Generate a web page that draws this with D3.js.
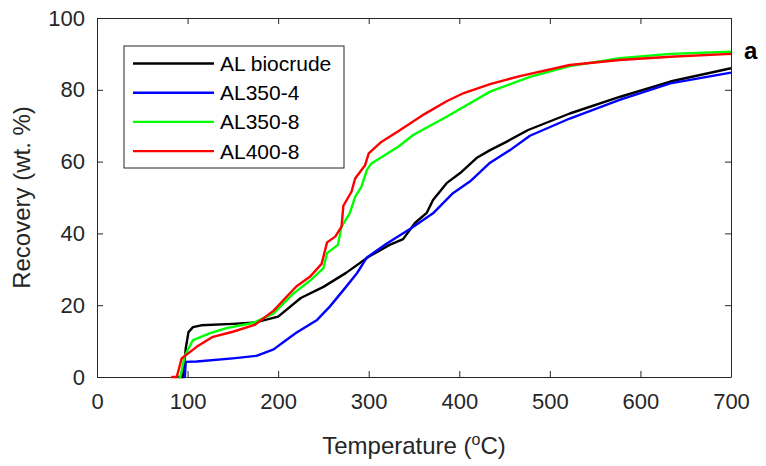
<!DOCTYPE html>
<html>
<head>
<meta charset="utf-8">
<script src="https://cdn.jsdelivr.net/npm/d3@7"></script>
<style>
  body { margin: 0; background: #fff; }
  text { font-family: "Liberation Sans", Arial, sans-serif; fill: #262626; }
</style>
</head>
<body>
<svg></svg>
<script>
// recovery curves, [temperature °C, recovery wt.%]
const seriesNames = ['AL biocrude', 'AL350-4', 'AL350-8', 'AL400-8']
const seriesColors = ['#000000', '#0000ff', '#00ff00', '#ff0000']

const alBiocrude = [[89,0],[95,0],[98,8],[101,12.5],[106,13.9],[115,14.4],[150,14.8],[175,15.2],[200,16.8],[225,22],[250,25.1],[275,29],[300,33.5],[323,36.8],[338,38.4],[351,42.9],[364,45.7],[371,49.3],[386,54],[401,56.8],[419,61],[434,63.2],[452,65.5],[476,68.8],[522,73.4],[577,78],[633,82.3],[700,86]]
const al350_4 = [[95,0],[97,0],[98,4.2],[110,4.3],[150,5.2],[176,5.9],[195,7.7],[209,10.3],[220,12.3],[243,15.9],[257,19.6],[272,24.2],[287,28.9],[298,33.3],[320,37.2],[346,41.3],[371,45.6],[393,51.2],[412,54.5],[434,59.7],[456,63.2],[478,67.2],[522,72],[577,77.2],[633,81.8],[700,84.8]]
const al350_8 = [[90,0],[92,0],[97,6],[106,10.3],[125,12.2],[143,13.6],[173,15.1],[195,17.7],[217,23.3],[235,26.8],[250,30.3],[254,34.5],[266,36.8],[270,41.9],[279,45.6],[285,50.2],[292,53],[298,57.7],[303,59.5],[333,64.2],[349,67.4],[386,72.5],[434,79.5],[478,83.6],[522,86.6],[577,88.8],[633,90],[700,90.6]]
const al400_8 = [[82,0],[88,0],[93.5,5.2],[110,8.4],[128,11.2],[150,12.6],[174,14.5],[195,18.5],[220,25.2],[235,27.9],[248,31.5],[254,37.5],[263,39.1],[270,41.9],[272,47.7],[281,51.6],[285,55.3],[296,59],[300,62.3],[313,65.3],[333,68.5],[349,71.2],[362,73.3],[386,76.8],[405,79.1],[434,81.6],[467,83.8],[522,86.9],[577,88.3],[633,89.2],[700,90]]

const xTicks = [0, 100, 200, 300, 400, 500, 600, 700]
const yTicks = [0, 20, 40, 60, 80, 100]

const width = 766, height = 466
const margin = {left: 97, right: 35, top: 18, bottom: 89}

let svg = d3.select('svg').attr('width', width).attr('height', height)

let x = d3.scaleLinear().domain([0, 700]).range([margin.left, width - margin.right])
let y = d3.scaleLinear().domain([0, 100]).range([height - margin.bottom, margin.top])

const axisColor = '#262626'
const tickLen = 6

function styleAxis(g) {
    g.select('.domain').attr('stroke', axisColor).attr('stroke-width', 1)
    g.selectAll('.tick line').attr('stroke', axisColor)
    g.selectAll('.tick text').style('font-size', '22px').attr('fill', axisColor)
}

// bottom + left with labels, ticks pointing inward
svg.append('g')
    .attr('transform', `translate(0,${y(0)})`)
    .call(d3.axisBottom(x).tickValues(xTicks).tickSizeInner(-tickLen).tickSizeOuter(0).tickPadding(16))
    .call(styleAxis)

svg.append('g')
    .attr('transform', `translate(${x(0)},0)`)
    .call(d3.axisLeft(y).tickValues(yTicks).tickSizeInner(-tickLen).tickSizeOuter(0).tickPadding(12))
    .call(styleAxis)

// top + right box, ticks only
svg.append('g')
    .attr('transform', `translate(0,${y(100)})`)
    .call(d3.axisTop(x).tickValues(xTicks).tickSizeInner(-tickLen).tickSizeOuter(0).tickFormat(''))
    .call(styleAxis)

svg.append('g')
    .attr('transform', `translate(${x(700)},0)`)
    .call(d3.axisRight(y).tickValues(yTicks).tickSizeInner(-tickLen).tickSizeOuter(0).tickFormat(''))
    .call(styleAxis)

let line = d3.line().x(d => x(d[0])).y(d => y(d[1]))

const allSeries = [alBiocrude, al350_4, al350_8, al400_8]
svg.append('g')
    .selectAll('path')
    .data(allSeries)
    .enter().append('path')
    .attr('d', line)
    .attr('fill', 'none')
    .attr('stroke', (d, i) => seriesColors[i])
    .attr('stroke-width', 2.4)
    .attr('stroke-linejoin', 'round')

// axis titles
let xt = svg.append('text')
    .attr('x', (x(0) + x(700)) / 2)
    .attr('y', 454)
    .attr('text-anchor', 'middle')
    .style('font-size', '24px')
xt.append('tspan').text('Temperature (')
xt.append('tspan').text('o').attr('dy', -9).style('font-size', '16px')
xt.append('tspan').text('C)').attr('dy', 9)

svg.append('text')
    .attr('transform', `translate(30,${(y(0) + y(100)) / 2}) rotate(-90)`)
    .attr('text-anchor', 'middle')
    .style('font-size', '24px')
    .text('Recovery (wt. %)')

// panel letter
svg.append('text')
    .attr('x', 744).attr('y', 59)
    .style('font-size', '24px')
    .style('font-weight', 'bold')
    .style('fill', '#000')
    .text('a')

// legend
let legend = svg.append('g')
legend.append('rect')
    .attr('x', 124).attr('y', 46)
    .attr('width', 220).attr('height', 122)
    .attr('fill', '#fff')
    .attr('stroke', axisColor)
    .attr('stroke-width', 1)

let items = legend.selectAll('g.item')
    .data(seriesNames)
    .enter().append('g')
    .attr('class', 'item')
    .attr('transform', (d, i) => `translate(0,${63.5 + i * 29.2})`)

items.append('line')
    .attr('x1', 133).attr('x2', 214)
    .attr('stroke', (d, i) => seriesColors[i])
    .attr('stroke-width', 2.4)

items.append('text')
    .attr('x', 220).attr('y', 7.5)
    .style('font-size', '21px')
    .style('fill', '#000')
    .text(d => d)
</script>
</body>
</html>
